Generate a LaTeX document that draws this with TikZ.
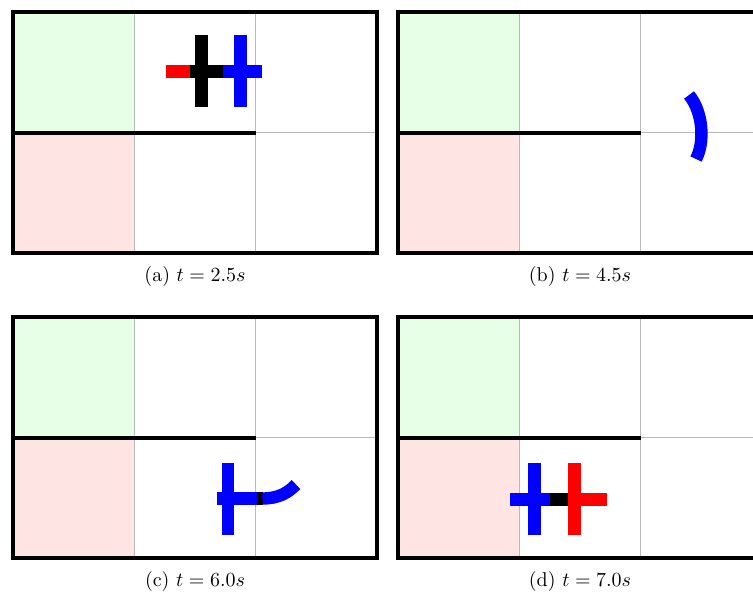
\documentclass[tikz,border=0pt]{standalone}
\begin{document}
\definecolor{goalgreen}{RGB}{230,255,230}
\definecolor{startred}{RGB}{255,228,228}
\definecolor{gridgray}{RGB}{185,185,185}
\begin{tikzpicture}[x=0.5pt,y=-0.5pt,
  framebox/.style={line width=2.1pt},
  gridline/.style={line width=0.5pt,draw=gridgray},
  wall/.style={line width=2pt},
  bar/.style={line width=6.2pt}]
\useasboundingbox (0,0) rectangle (753,595);
\clip (0,0) rectangle (753,595);
\foreach \ox/\oy/\lab/\tm in {13/12/a/2.5, 398/12/b/4.5, 13/317/c/6.0, 398/317/d/7.0}{
  \begin{scope}[shift={(\ox,\oy)}]
    \fill[goalgreen] (0,0) rectangle (121.3,120.5);
    \fill[startred] (0,120.5) rectangle (121.3,241);
    \draw[gridline] (121.3,0) -- (121.3,241);
    \draw[gridline] (242.7,0) -- (242.7,241);
    \draw[gridline] (0,120.5) -- (364,120.5);
    \draw[wall] (0,120.5) -- (242.7,120.5);
    \draw[framebox] (0,0) rectangle (364,241);
    \node (cap\lab) at (182,264.5) {(\lab) $t = \tm s$};
  \end{scope}
}
% (a)
\draw[bar,red] (166,71.5) -- (190,71.5);
\draw[bar,black] (190,71.5) -- (223,71.5);
\draw[bar,black] (201.5,35) -- (201.5,107);
\draw[bar,blue] (223,71.5) -- (262,71.5);
\draw[bar,blue] (240.5,35) -- (240.5,107);
% (b)
\draw[bar,blue] (689,95) .. controls (703,112) and (705,142) .. (696,159);
% (c)
\draw[bar,blue] (217,498.5) -- (257,498.5);
\draw[bar,blue] (228,463) -- (228,535);
\draw[bar,black] (257,498.5) -- (262.5,498.5);
\draw[bar,blue] (262.5,498.5) .. controls (278,498.5) and (288,493) .. (296,484.5);
% (d)
\draw[bar,blue] (510,499.5) -- (550,499.5);
\draw[bar,blue] (534.5,463) -- (534.5,535);
\draw[bar,black] (550,499.5) -- (578,499.5);
\draw[bar,red] (578,499.5) -- (607,499.5);
\draw[bar,red] (574.5,463) -- (574.5,535);
\end{tikzpicture}
\end{document}
